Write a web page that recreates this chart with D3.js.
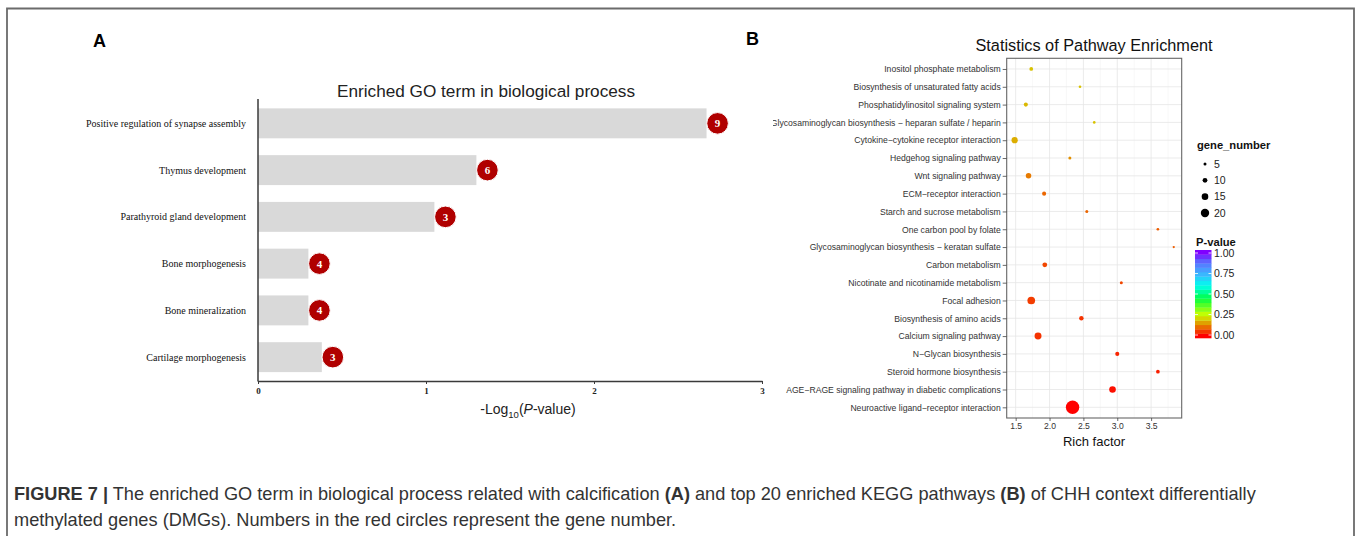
<!DOCTYPE html>
<html>
<head>
<meta charset="utf-8">
<script src="https://cdn.jsdelivr.net/npm/d3@7"></script>
<style>
  html, body { margin: 0; padding: 0; background: #fff; }
  svg { display: block; }
  .sans { font-family: "Liberation Sans", Arial, Helvetica, sans-serif; }
  .serif { font-family: "Liberation Serif", "Times New Roman", serif; }
</style>
</head>
<body>
<svg id="fig" width="1358" height="536"></svg>
<script>
// ---- Panel A: enriched GO terms (biological process) ----
const goTerms = [
  "Positive regulation of synapse assembly",
  "Thymus development",
  "Parathyroid gland development",
  "Bone morphogenesis",
  "Bone mineralization",
  "Cartilage morphogenesis"
];
const goNegLogP = [2.67, 1.30, 1.05, 0.30, 0.30, 0.38];
const goGeneCount = [9, 6, 3, 4, 4, 3];
const goTicks = [0, 1, 2, 3];

// ---- Panel B: top 20 KEGG pathways ----
const pathways = [
  "Inositol phosphate metabolism",
  "Biosynthesis of unsaturated fatty acids",
  "Phosphatidylinositol signaling system",
  "Glycosaminoglycan biosynthesis \u2212 heparan sulfate / heparin",
  "Cytokine\u2212cytokine receptor interaction",
  "Hedgehog signaling pathway",
  "Wnt signaling pathway",
  "ECM\u2212receptor interaction",
  "Starch and sucrose metabolism",
  "One carbon pool by folate",
  "Glycosaminoglycan biosynthesis \u2212 keratan sulfate",
  "Carbon metabolism",
  "Nicotinate and nicotinamide metabolism",
  "Focal adhesion",
  "Biosynthesis of amino acids",
  "Calcium signaling pathway",
  "N\u2212Glycan biosynthesis",
  "Steroid hormone biosynthesis",
  "AGE\u2212RAGE signaling pathway in diabetic complications",
  "Neuroactive ligand\u2212receptor interaction"
];
const richFactor = [1.73, 2.45, 1.65, 2.66, 1.485, 2.30, 1.69, 1.92, 2.55, 3.60,
                    3.834, 1.93, 3.06, 1.73, 2.47, 1.83, 3.00, 3.60, 2.93, 2.34];
const geneNumber = [7, 4, 8, 4, 14, 5, 12, 8, 5, 4,
                    3, 10, 5, 18, 9, 16, 8, 7, 15, 34];
const pValue = [0.19, 0.19, 0.18, 0.19, 0.17, 0.14, 0.12, 0.10, 0.10, 0.09,
                0.09, 0.07, 0.07, 0.06, 0.05, 0.05, 0.035, 0.03, 0.015, 0.001];
const richTicks = [1.5, 2.0, 2.5, 3.0, 3.5];
const sizeBreaks = [5, 10, 15, 20];
const pBreaks = [0, 0.25, 0.5, 0.75, 1];

const svg = d3.select("#fig");

// figure frame
svg.append("path")
  .attr("d", "M7,540 L7,8.5 L1354,8.5 L1354,540")
  .attr("fill", "none").attr("stroke", "#6b6b6b").attr("stroke-width", 1.8);

// panel letters
svg.append("text").attr("class", "sans").attr("x", 93).attr("y", 47)
  .attr("font-size", 18).attr("font-weight", "bold").text("A");
svg.append("text").attr("class", "sans").attr("x", 746).attr("y", 45)
  .attr("font-size", 18).attr("font-weight", "bold").text("B");

// ================= Panel A =================
const xA = d3.scaleLinear().domain([0, 3]).range([258, 762]);
const yA = d3.scaleBand().domain(goTerms).range([99.5, 381])
  .paddingInner(0.36).paddingOuter(0.19);

const gA = svg.append("g");

gA.append("text").attr("class", "sans")
  .attr("x", 486).attr("y", 97).attr("text-anchor", "middle")
  .attr("font-size", 17.2).attr("fill", "#222")
  .text("Enriched GO term in biological process");

gA.selectAll("rect.bar").data(goTerms).join("rect")
  .attr("class", "bar")
  .attr("x", xA(0))
  .attr("y", d => yA(d))
  .attr("width", (d, i) => xA(goNegLogP[i]) - xA(0))
  .attr("height", yA.bandwidth())
  .attr("fill", "#d9d9d9");

// term labels
gA.selectAll("text.term").data(goTerms).join("text")
  .attr("class", "term serif")
  .attr("x", 246)
  .attr("y", d => yA(d) + yA.bandwidth() / 2)
  .attr("dy", "0.35em")
  .attr("text-anchor", "end")
  .attr("font-size", 10)
  .attr("fill", "#111")
  .text(d => d);

// axes
const axisCol = "#3a3a3a";
gA.append("line").attr("x1", 258).attr("x2", 258).attr("y1", 99).attr("y2", 381.5)
  .attr("stroke", axisCol).attr("stroke-width", 1.5);
const axA = d3.axisBottom(xA).tickValues(goTicks).tickFormat(d3.format("d")).tickSize(3).tickSizeOuter(0);
const gAx = gA.append("g").attr("transform", "translate(0,381)").call(axA);
gAx.select(".domain").attr("stroke", axisCol).attr("stroke-width", 1.5);
gAx.selectAll(".tick line").attr("stroke", axisCol);
gAx.selectAll(".tick text").attr("class", "serif").attr("font-size", 9)
  .attr("font-weight", "bold").attr("fill", "#222").attr("y", 7);

const xt = gA.append("text").attr("class", "sans")
  .attr("x", 528).attr("y", 414).attr("text-anchor", "middle")
  .attr("font-size", 14).attr("fill", "#222");
xt.append("tspan").text("-Log");
xt.append("tspan").attr("font-size", 9.5).attr("dy", 4).text("10");
xt.append("tspan").attr("dy", -4).text("(");
xt.append("tspan").attr("font-style", "italic").text("P");
xt.append("tspan").text("-value)");

// gene-count badges
const badge = gA.selectAll("g.badge").data(goTerms).join("g")
  .attr("class", "badge")
  .attr("transform", (d, i) => `translate(${xA(goNegLogP[i]) + 11},${yA(d) + yA.bandwidth() / 2})`);
badge.append("circle").attr("r", 10.8).attr("fill", "#b00000")
  .attr("stroke", "#fff").attr("stroke-width", 1);
badge.append("text").attr("class", "serif").attr("text-anchor", "middle")
  .attr("dy", "0.36em").attr("font-size", 11).attr("font-weight", "bold")
  .attr("fill", "#fff").text((d, i) => goGeneCount[i]);

// ================= Panel B =================
const gB = svg.append("g");
svg.append("defs").append("clipPath").attr("id", "clipB")
  .append("rect").attr("x", 773).attr("y", 20).attr("width", 560).attr("height", 440);
gB.attr("clip-path", "url(#clipB)");

const px0 = 1006.7, px1 = 1181.7, py0 = 58.3, py1 = 418;
const [rmin, rmax] = d3.extent(richFactor);
const pad = (rmax - rmin) * 0.05;
const xB = d3.scaleLinear().domain([rmin - pad, rmax + pad]).range([px0, px1]);
const yB = d3.scalePoint().domain(pathways).range([py0, py1]).padding(0.6);
const rB = d3.scaleLinear().domain([5, 20]).range([1.5, 4.2]);
const colStops = [0, 0.25, 0.45, 0.6, 0.75, 0.88, 1];
const colVals = ["#ff0000", "#ccff00", "#00ff44", "#00ffee", "#40b0ff", "#5a70ff", "#8000ff"];
const cB = d3.scaleLinear().domain(colStops).range(colVals).interpolate(d3.interpolateRgb);

gB.append("text").attr("class", "sans")
  .attr("x", 1094).attr("y", 51).attr("text-anchor", "middle")
  .attr("font-size", 16.3).attr("fill", "#111")
  .text("Statistics of Pathway Enrichment");

// panel background and grid
gB.append("rect").attr("x", px0).attr("y", py0).attr("width", px1 - px0).attr("height", py1 - py0)
  .attr("fill", "#fff");
const minorTicks = d3.range(1.25, 4.0, 0.5).filter(v => v > xB.domain()[0] && v < xB.domain()[1]);
gB.selectAll("line.minor").data(minorTicks).join("line")
  .attr("x1", d => xB(d)).attr("x2", d => xB(d)).attr("y1", py0).attr("y2", py1)
  .attr("stroke", "#f3f3f3").attr("stroke-width", 0.6);
gB.selectAll("line.vmaj").data(richTicks).join("line")
  .attr("x1", d => xB(d)).attr("x2", d => xB(d)).attr("y1", py0).attr("y2", py1)
  .attr("stroke", "#e6e6e6").attr("stroke-width", 0.8);
gB.selectAll("line.hmaj").data(pathways).join("line")
  .attr("x1", px0).attr("x2", px1).attr("y1", d => yB(d)).attr("y2", d => yB(d))
  .attr("stroke", "#e6e6e6").attr("stroke-width", 0.8);

// dots
gB.selectAll("circle.dot").data(pathways).join("circle")
  .attr("class", "dot")
  .attr("cx", (d, i) => xB(richFactor[i]))
  .attr("cy", d => yB(d))
  .attr("r", (d, i) => rB(geneNumber[i]))
  .attr("fill", (d, i) => cB(pValue[i]));

gB.append("rect").attr("x", px0).attr("y", py0).attr("width", px1 - px0).attr("height", py1 - py0)
  .attr("fill", "none").attr("stroke", "#666").attr("stroke-width", 1.1);

// axes
const axYB = d3.axisLeft(yB).tickSize(4).tickPadding(2);
const gyB = gB.append("g").attr("transform", `translate(${px0},0)`).call(axYB);
gyB.select(".domain").remove();
gyB.selectAll(".tick line").attr("stroke", "#444").attr("stroke-width", 0.8);
gyB.selectAll(".tick text").attr("class", "sans").attr("font-size", 8.65).attr("fill", "#333");

const axXB = d3.axisBottom(xB).tickValues(richTicks).tickFormat(d3.format(".1f")).tickSize(3).tickPadding(2);
const gxB = gB.append("g").attr("transform", `translate(0,${py1})`).call(axXB);
gxB.select(".domain").remove();
gxB.selectAll(".tick line").attr("stroke", "#444").attr("stroke-width", 0.8);
gxB.selectAll(".tick text").attr("class", "sans").attr("font-size", 8.6).attr("fill", "#333");

gB.append("text").attr("class", "sans")
  .attr("x", 1094).attr("y", 446).attr("text-anchor", "middle")
  .attr("font-size", 13).attr("fill", "#111").text("Rich factor");

// legend: gene number
const lg = svg.append("g");
lg.append("text").attr("class", "sans").attr("x", 1197).attr("y", 149)
  .attr("font-size", 11.2).attr("font-weight", "bold").attr("fill", "#111").text("gene_number");
const sizeY = d3.scalePoint().domain(sizeBreaks).range([164, 213]);
lg.selectAll("circle.sz").data(sizeBreaks).join("circle")
  .attr("cx", 1205).attr("cy", d => sizeY(d)).attr("r", d => rB(d)).attr("fill", "#000");
lg.selectAll("text.sz").data(sizeBreaks).join("text")
  .attr("class", "sans").attr("x", 1214).attr("y", d => sizeY(d)).attr("dy", "0.35em")
  .attr("font-size", 10.5).attr("fill", "#222").text(d => d);

// legend: P-value colour bar
lg.append("text").attr("class", "sans").attr("x", 1196).attr("y", 246)
  .attr("font-size", 11.2).attr("font-weight", "bold").attr("fill", "#111").text("P-value");
const barTop = 250, barBot = 338, barX = 1195, barW = 16.5;
const pY = d3.scaleLinear().domain([0, 1]).range([barBot - 3, barTop + 3]);
const nbin = 20;
const bins = d3.range(nbin).map(i => i / (nbin - 1));
const binH = (barBot - barTop) / nbin;
lg.selectAll("rect.bin").data(bins).join("rect")
  .attr("x", barX).attr("width", barW)
  .attr("y", (d, i) => barBot - (i + 1) * binH)
  .attr("height", binH + 0.3)
  .attr("fill", d => cB(d));
pBreaks.forEach(v => {
  lg.append("line").attr("x1", barX).attr("x2", barX + 3).attr("y1", pY(v)).attr("y2", pY(v))
    .attr("stroke", "#fff").attr("stroke-width", 0.8);
  lg.append("line").attr("x1", barX + barW - 3).attr("x2", barX + barW).attr("y1", pY(v)).attr("y2", pY(v))
    .attr("stroke", "#fff").attr("stroke-width", 0.8);
});
lg.selectAll("text.pb").data(pBreaks).join("text")
  .attr("class", "sans").attr("x", 1214).attr("y", d => pY(d)).attr("dy", "0.35em")
  .attr("font-size", 10.5).attr("fill", "#222").text(d => d3.format(".2f")(d));

// ================= Caption =================
const cap = svg.append("g").attr("class", "sans").attr("fill", "#333");
const l1 = cap.append("text").attr("x", 14).attr("y", 500).attr("font-size", 18.2);
l1.append("tspan").attr("font-weight", "bold").text("FIGURE 7 |");
l1.append("tspan").text(" The enriched GO term in biological process related with calcification ");
l1.append("tspan").attr("font-weight", "bold").text("(A)");
l1.append("tspan").text(" and top 20 enriched KEGG pathways ");
l1.append("tspan").attr("font-weight", "bold").text("(B)");
l1.append("tspan").text(" of CHH context differentially");
cap.append("text").attr("x", 14).attr("y", 526).attr("font-size", 18.2)
  .text("methylated genes (DMGs). Numbers in the red circles represent the gene number.");
</script>
</body>
</html>
